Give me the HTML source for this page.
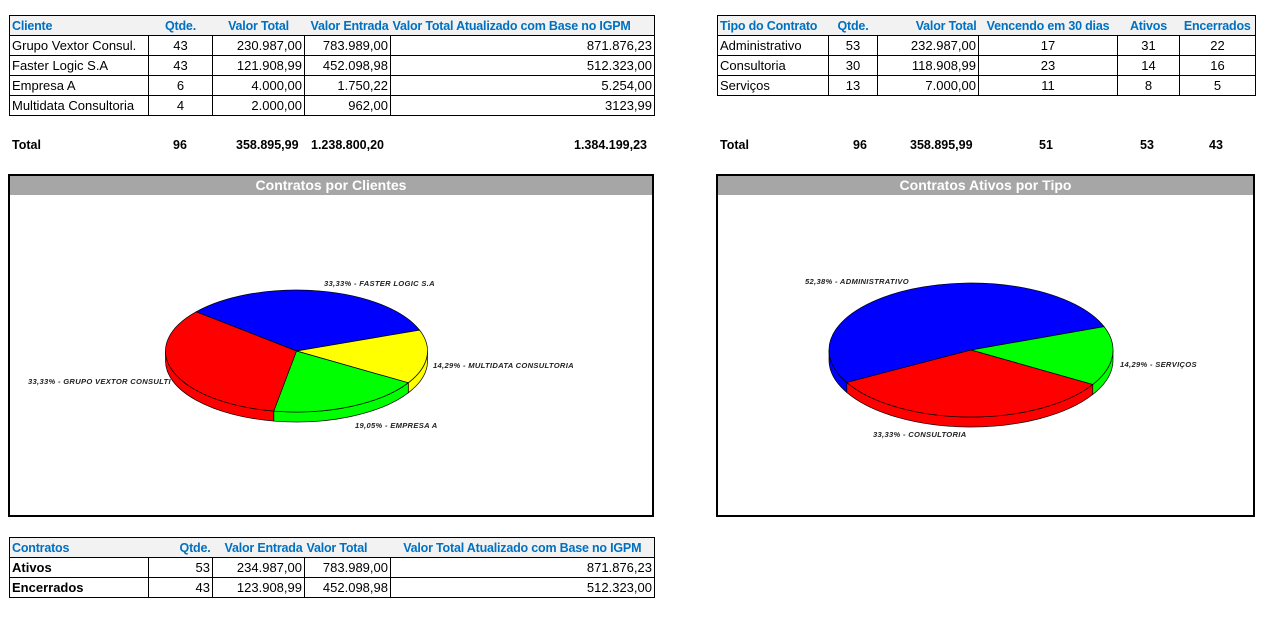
<!DOCTYPE html>
<html><head><meta charset="utf-8">
<style>
body{margin:0;width:1275px;height:622px;background:#fff;position:relative;overflow:hidden;font-family:"Liberation Sans",sans-serif;}
table{position:absolute;border-collapse:collapse;table-layout:fixed;font-size:13px;}
td{height:19px;padding:0 2px;border:1px solid #000;white-space:nowrap;overflow:hidden;}
tr.h td{background:#f2f2f2;color:#0070c0;font-weight:bold;border-left:none;border-right:none;font-size:12.5px;letter-spacing:-0.2px}
tr.h td:first-child{border-left:1px solid #000}
tr.h td:last-child{border-right:1px solid #000}
.r{text-align:right}.c{text-align:center}.b{font-weight:bold}
.tot{position:absolute;font-size:12.5px;font-weight:bold;top:138px}
.box{position:absolute;border:2px solid #000;background:#fff;box-sizing:border-box}
.ttl{background:#a6a6a6;color:#fff;font-weight:bold;font-size:14px;text-align:center;height:19px;line-height:19px}
svg{position:absolute;left:0;top:0}
</style></head><body>

<table style="left:9px;top:15px;width:645px">
<colgroup><col style="width:139px"><col style="width:64px"><col style="width:92px"><col style="width:86px"><col style="width:264px"></colgroup>
<tr class="h"><td>Cliente</td><td class="c">Qtde.</td><td class="c">Valor Total</td><td class="r">Valor Entrada</td><td>Valor Total Atualizado com Base no IGPM</td></tr>
<tr><td>Grupo Vextor Consul.</td><td class="c">43</td><td class="r">230.987,00</td><td class="r">783.989,00</td><td class="r">871.876,23</td></tr>
<tr><td>Faster Logic S.A</td><td class="c">43</td><td class="r">121.908,99</td><td class="r">452.098,98</td><td class="r">512.323,00</td></tr>
<tr><td>Empresa A</td><td class="c">6</td><td class="r">4.000,00</td><td class="r">1.750,22</td><td class="r">5.254,00</td></tr>
<tr><td>Multidata Consultoria</td><td class="c">4</td><td class="r">2.000,00</td><td class="r">962,00</td><td class="r">3123,99</td></tr>
</table>
<div class="tot" style="left:12px">Total</div>
<div class="tot" style="left:173px">96</div>
<div class="tot" style="left:236px">358.895,99</div>
<div class="tot" style="left:311px">1.238.800,20</div>
<div class="tot" style="left:574px">1.384.199,23</div>

<table style="left:717px;top:15px;width:538px">
<colgroup><col style="width:111px"><col style="width:49px"><col style="width:101px"><col style="width:139px"><col style="width:62px"><col style="width:76px"></colgroup>
<tr class="h"><td>Tipo do Contrato</td><td class="c">Qtde.</td><td class="r">Valor Total</td><td class="c">Vencendo em 30 dias</td><td class="c">Ativos</td><td class="c">Encerrados</td></tr>
<tr><td>Administrativo</td><td class="c">53</td><td class="r">232.987,00</td><td class="c">17</td><td class="c">31</td><td class="c">22</td></tr>
<tr><td>Consultoria</td><td class="c">30</td><td class="r">118.908,99</td><td class="c">23</td><td class="c">14</td><td class="c">16</td></tr>
<tr><td>Serviços</td><td class="c">13</td><td class="r">7.000,00</td><td class="c">11</td><td class="c">8</td><td class="c">5</td></tr>
</table>
<div class="tot" style="left:720px">Total</div>
<div class="tot" style="left:853px">96</div>
<div class="tot" style="left:910px">358.895,99</div>
<div class="tot" style="left:1039px">51</div>
<div class="tot" style="left:1140px">53</div>
<div class="tot" style="left:1209px">43</div>

<div class="box" style="left:8px;top:174px;width:646px;height:343px"><div class="ttl">Contratos por Clientes</div></div>
<div class="box" style="left:716px;top:174px;width:539px;height:343px"><div class="ttl">Contratos Ativos por Tipo</div></div>

<table style="left:9px;top:537px;width:645px">
<colgroup><col style="width:139px"><col style="width:64px"><col style="width:92px"><col style="width:86px"><col style="width:264px"></colgroup>
<tr class="h"><td>Contratos</td><td class="r">Qtde.</td><td class="r">Valor Entrada</td><td>Valor Total</td><td class="c">Valor Total Atualizado com Base no IGPM</td></tr>
<tr><td class="b">Ativos</td><td class="r">53</td><td class="r">234.987,00</td><td class="r">783.989,00</td><td class="r">871.876,23</td></tr>
<tr><td class="b">Encerrados</td><td class="r">43</td><td class="r">123.908,99</td><td class="r">452.098,98</td><td class="r">512.323,00</td></tr>
</table>

<svg id="pies" width="1275" height="622"></svg>

<script>
const clientCats = ["FASTER LOGIC S.A","MULTIDATA CONSULTORIA","EMPRESA A","GRUPO VEXTOR CONSULTI"];
const clientVals = [7,3,4,7];
const clientLabels = ["33,33%","14,29%","19,05%","33,33%"];
const clientColors = ["#0000ff","#ffff00","#00ff00","#ff0000"];
const typeCats = ["ADMINISTRATIVO","SERVIÇOS","CONSULTORIA"];
const typeVals = [11,3,7];
const typeLabels = ["52,38%","14,29%","33,33%"];
const typeColors = ["#0000ff","#00ff00","#ff0000"];

const NS="http://www.w3.org/2000/svg";
const svg=document.getElementById('pies');
function mk(tag,attrs){const e=document.createElementNS(NS,tag);for(const k in attrs)e.setAttribute(k,attrs[k]);svg.appendChild(e);return e;}
function pie(name,cx,cy,rx,ry,depth,start,vals,colors,cats,labels,labelPos){
  const tot=vals.reduce((a,b)=>a+b,0);
  const P=(a,d)=>[cx+rx*Math.cos(a*Math.PI/180),cy+ry*Math.sin(a*Math.PI/180)+(d||0)];
  let a=start;const sl=[];
  vals.forEach((v,i)=>{const s=v/tot*360;sl.push([a,a+s,i]);a+=s;});
  sl.forEach(([a1,a2,i])=>{
    for(const off of [0,360,-360]){
      const s=Math.max(a1,0+off),e=Math.min(a2,180+off);
      if(e>s){
        const p1=P(s),p2=P(e),p3=P(e,depth),p4=P(s,depth);
        const side=mk('path',{d:`M${p1}A${rx} ${ry} 0 0 1 ${p2}L${p3}A${rx} ${ry} 0 0 0 ${p4}Z`,fill:colors[i],stroke:'#000','stroke-width':0.7});
        
        
      }
    }
  });
  sl.forEach(([a1,a2,i])=>{
    const p1=P(a1),p2=P(a2),lg=(a2-a1)>180?1:0;
    const top=mk('path',{d:`M${cx},${cy}L${p1}A${rx} ${ry} 0 ${lg} 1 ${p2}Z`,fill:colors[i],stroke:'#000','stroke-width':0.7});
    
    
    const t=mk('text',{x:labelPos[i][0],y:labelPos[i][1],'font-size':7.6,'font-weight':'bold','font-style':'italic',fill:'#222','letter-spacing':0.3,'font-family':'"Liberation Sans",sans-serif'});
    t.textContent=labels[i]+' - '+cats[i];
    
    
  });
}
pie('clients-pie',296.5,351,131,61,10,-140,clientVals,clientColors,clientCats,clientLabels,[[324,286],[433,368],[355,428],[28,384]]);
pie('types-pie',971,350,142,67,10,151,typeVals,typeColors,typeCats,typeLabels,[[805,284],[1120,367],[873,437]]);
</script>
</body></html>
